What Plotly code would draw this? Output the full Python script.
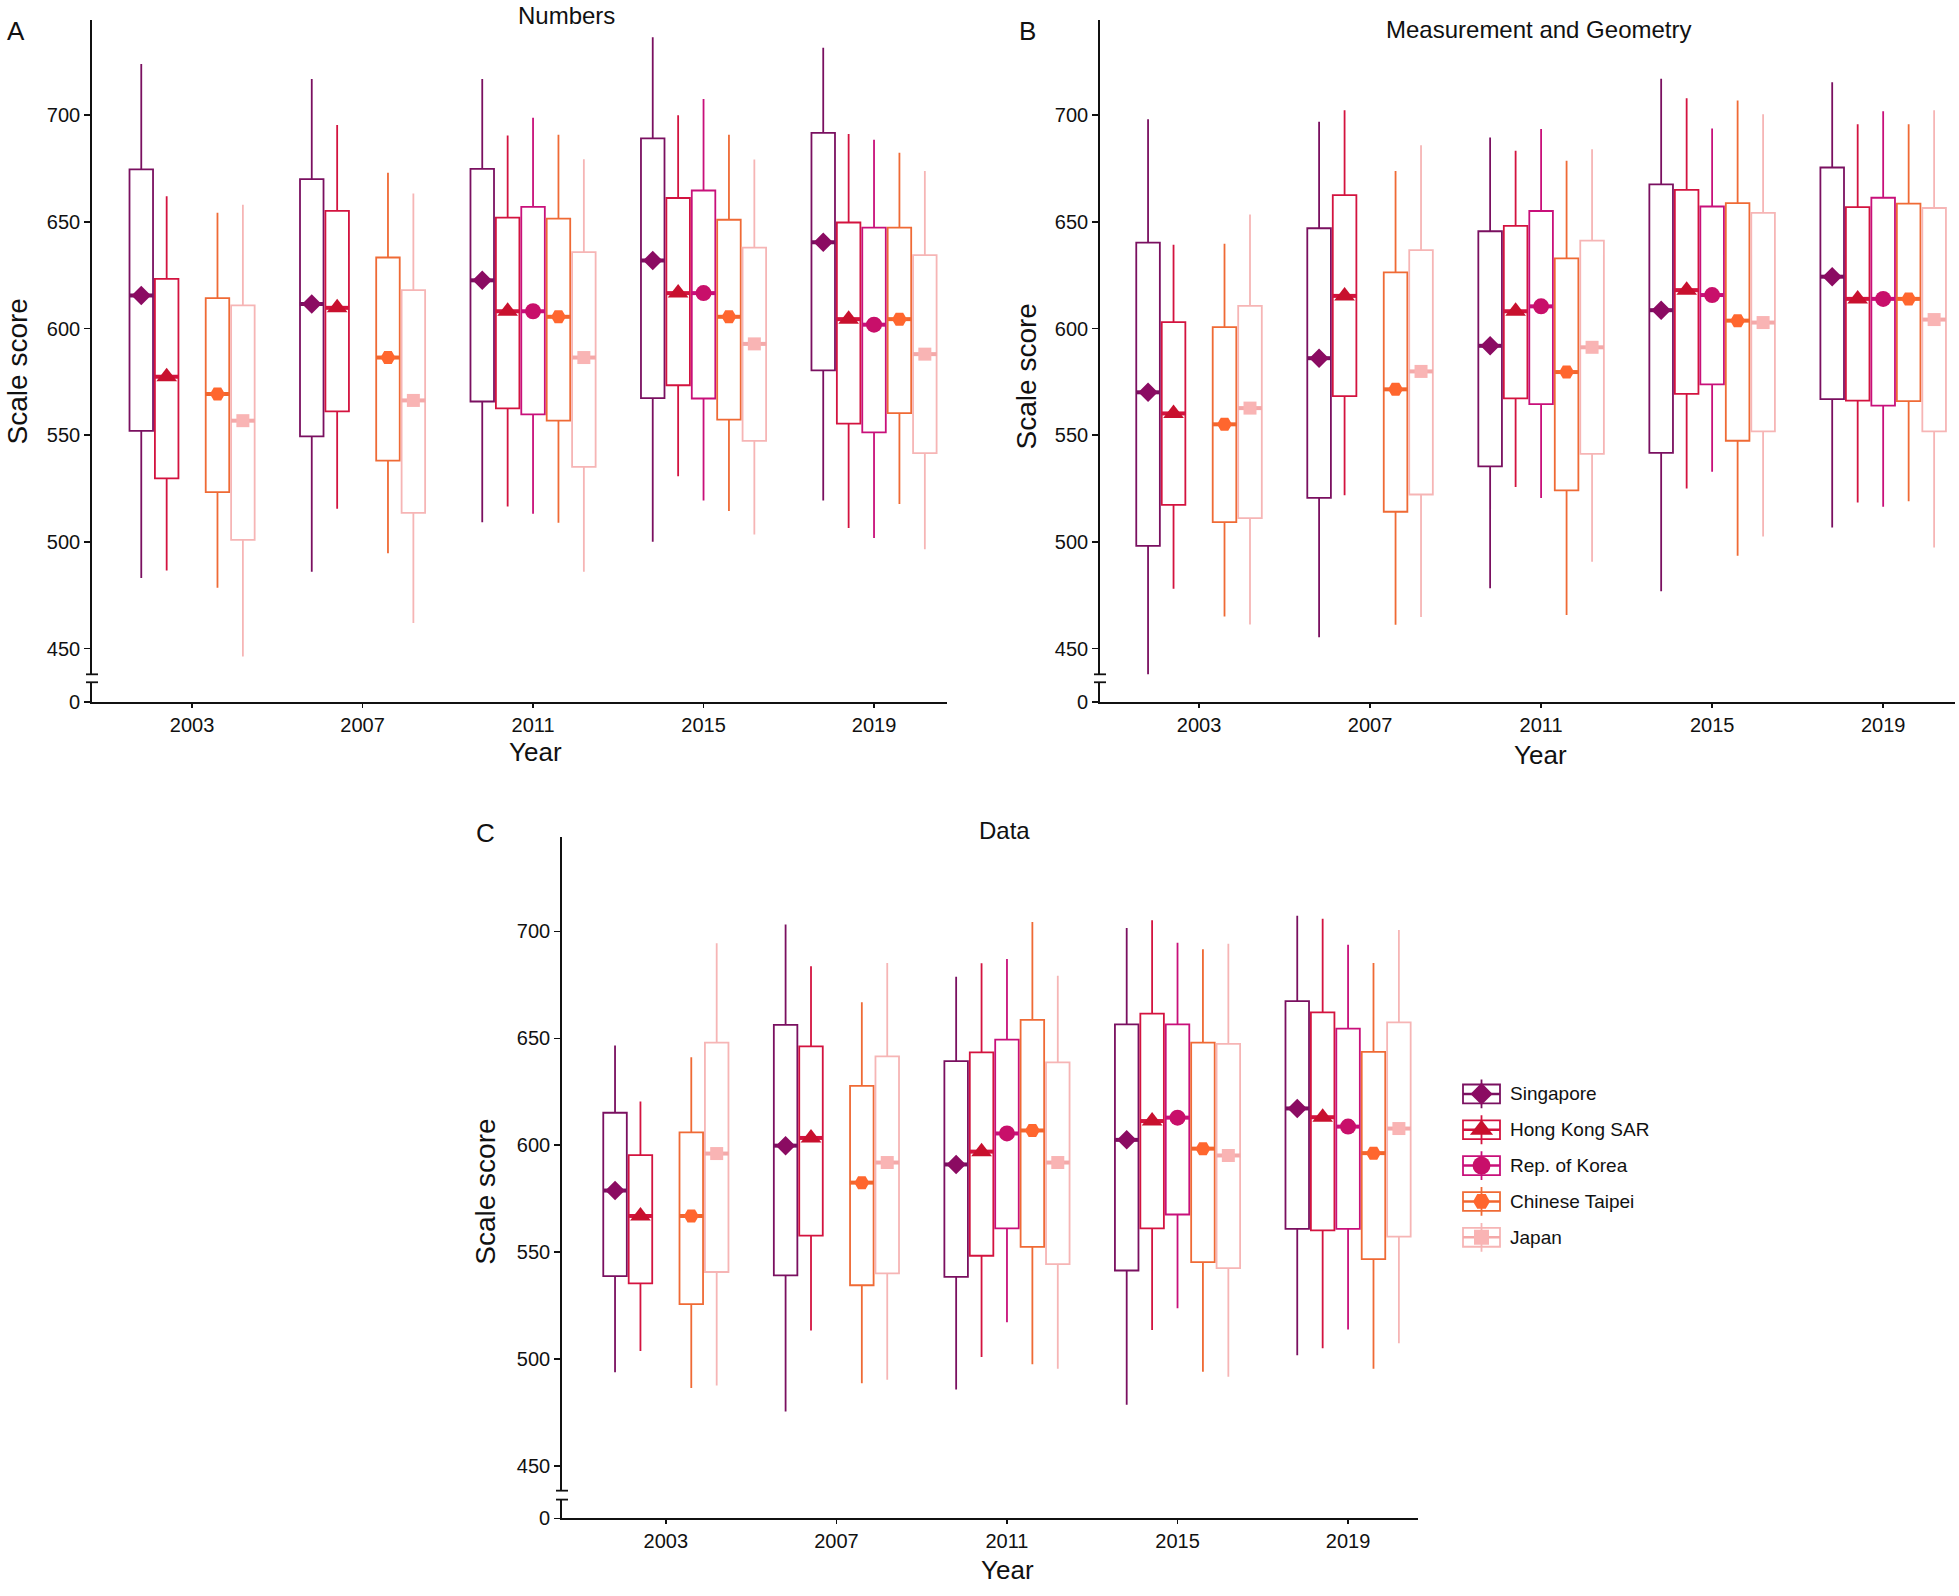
import plotly.graph_objects as go

# ---------------- data ----------------
YEARS = ["2003", "2007", "2011", "2015", "2019"]
COUNTRIES = ["Singapore", "Hong Kong SAR", "Rep. of Korea", "Chinese Taipei", "Japan"]
N = None

# Panel A: Numbers  (rows = countries, cols = years)
NUM_HI = [[724, 717, 717, 736.5, 731.6],
          [662, 695.4, 690.5, 700, 691.2],
          [N, N, 698.8, 707.6, 688.5],
          [654.3, 673, 690.8, 690.8, 682.4],
          [658, 663.3, 679.4, 679.2, 673.9]]
NUM_Q3 = [[674.6, 670, 674.8, 689.1, 691.7],
          [623.3, 655.2, 652, 661.2, 649.7],
          [N, N, 657, 664.7, 647.3],
          [614.3, 633.3, 651.5, 651, 647.3],
          [610.9, 618, 635.8, 637.9, 634.4]]
NUM_MED = [[615.5, 611.5, 622.6, 631.9, 640.4],
           [577.4, 609.7, 608.1, 616.6, 604.4],
           [N, N, 608.1, 616.6, 601.8],
           [569.3, 586.4, 605.5, 605.5, 604.4],
           [556.8, 566.3, 586.4, 592.8, 588]]
NUM_Q1 = [[552, 549.4, 565.8, 567.4, 580.4],
          [529.8, 561.2, 562.6, 573.4, 555.4],
          [N, N, 559.8, 567.2, 551.3],
          [523.3, 538.1, 556.8, 557.3, 560.3],
          [500.9, 513.6, 535.1, 547.3, 541.6]]
NUM_LO = [[483, 486, 509.2, 500, 519.4],
          [486.6, 515.5, 516.6, 530.7, 506.5],
          [N, N, 513.2, 519.4, 501.8],
          [478.5, 494.7, 509, 514.5, 517.8],
          [446.2, 461.9, 486, 503.5, 496.5]]

# Panel B: Measurement and Geometry
MG_HI = [[698.1, 696.9, 689.6, 717.1, 715.5],
         [639.3, 702.3, 683.3, 707.9, 695.8],
         [N, N, 693.5, 693.8, 701.9],
         [639.8, 673.8, 678.7, 706.9, 695.8],
         [653.5, 685.9, 684, 700.5, 702.3]]
MG_Q3 = [[640.3, 647, 645.6, 667.6, 675.5],
         [603, 662.5, 648.1, 665, 656.9],
         [N, N, 655.1, 657.2, 661.3],
         [600.7, 626.3, 632.9, 658.8, 658.6],
         [610.6, 636.8, 641.2, 654.2, 656.5]]
MG_MED = [[570.1, 586.1, 591.9, 608.6, 624.3],
          [560.2, 615.3, 608.1, 618, 613.9],
          [N, N, 610.4, 615.7, 613.9],
          [555.1, 571.5, 579.6, 603.7, 613.9],
          [562.7, 579.9, 591.2, 602.8, 604.2]]
MG_Q1 = [[498.1, 520.6, 535.4, 541.7, 566.9],
         [517.3, 568.3, 567.3, 569.4, 566.2],
         [N, N, 564.6, 573.8, 563.9],
         [509.2, 514.1, 524.1, 547.4, 566],
         [511.1, 522.2, 541.2, 551.8, 551.8]]
MG_LO = [[436.3, 455.3, 478.2, 476.8, 506.7],
         [478, 521.8, 525.7, 525, 518.5],
         [N, N, 520.6, 532.9, 516.4],
         [465, 461.1, 465.7, 493.5, 519],
         [461.3, 464.8, 490.7, 502.5, 497.4]]

# Panel C: Data
DAT_HI = [[646.7, 703.2, 678.8, 701.6, 707.4],
          [620.5, 683.7, 685.1, 705.3, 706],
          [N, N, 687.1, 694.7, 693.8],
          [641.1, 666.9, 704.4, 691.7, 685.3],
          [694.5, 685.3, 679.3, 694.3, 700.7]]
DAT_Q3 = [[615.2, 656.3, 639.3, 656.5, 667.4],
          [595.4, 646.2, 643.4, 661.6, 662.1],
          [N, N, 649.4, 656.5, 654.5],
          [606, 627.8, 658.6, 648, 643.7],
          [648, 641.6, 638.8, 647.4, 657.5]]
DAT_MED = [[578.8, 599.8, 591, 602.5, 617.2],
           [566.9, 603.4, 597, 611.3, 613.1],
           [N, N, 605.5, 612.9, 608.7],
           [566.9, 582.5, 606.9, 598.4, 596.3],
           [596.1, 591.9, 591.9, 595.2, 607.8]]
DAT_Q1 = [[538.8, 539.1, 538.4, 541.4, 560.9],
          [535.4, 557.7, 548.3, 561.1, 560.2],
          [N, N, 561.1, 567.6, 560.9],
          [525.7, 534.5, 552.4, 545.3, 546.7],
          [540.7, 540, 544.4, 542.5, 557.2]]
DAT_LO = [[493.8, 475.4, 485.7, 478.6, 501.8],
          [503.7, 513.3, 500.9, 513.6, 505],
          [N, N, 517.2, 523.7, 513.8],
          [486.4, 488.7, 497.5, 494, 495.4],
          [487.6, 490.3, 495.4, 491.7, 507.3]]

Y_TICKS = [450, 500, 550, 600, 650, 700]

# ---------------- styles ----------------
LINE_COL = ["#7a1060", "#d3133f", "#c8107a", "#ef6a35", "#f6b5b5"]
MED_COL = ["#7a1060", "#d3133f", "#c8107a", "#f2662e", "#f4a9a9"]
MARK_COL = ["#8b0b62", "#c8102e", "#c80f6a", "#ff662e", "#f9b4b4"]
SYMBOLS = ["diamond", "triangle-up", "circle", "hexagon2", "square"]
SIZES = [15, 18, 16, 15, 13]

W, H = 1959, 1596
FONT = "Liberation Sans, Arial, sans-serif"
SLOT = 0.149
BOXW = 0.138


def fx(px):
    return px / W


def fy(py):
    return 1 - py / H


fig = go.Figure()

panels = [
    dict(key="A", title="Numbers", data=(NUM_LO, NUM_Q1, NUM_MED, NUM_Q3, NUM_HI),
         x0=92, x1=947, top=20, brk=679, ltop=687, base=707,
         xr=[-0.587, 4.428], yr=[437.9, 744.7],
         title_xy=(566, 16), letter_xy=(16, 31), ytitle_xy=(17, 374), xtitle_xy=(535, 757)),
    dict(key="B", title="Measurement and Geometry", data=(MG_LO, MG_Q1, MG_MED, MG_Q3, MG_HI),
         x0=1100, x1=1955, top=20, brk=679, ltop=687, base=707,
         xr=[-0.579, 4.42], yr=[437.9, 744.7],
         title_xy=(1538, 30), letter_xy=(1027, 31), ytitle_xy=(1026, 379), xtitle_xy=(1540, 760)),
    dict(key="C", title="Data", data=(DAT_LO, DAT_Q1, DAT_MED, DAT_Q3, DAT_HI),
         x0=562, x1=1418, top=843, brk=1501, ltop=1510, base=1529,
         xr=[-0.609, 4.41], yr=[438.4, 744.1],
         title_xy=(1004, 836), letter_xy=(485, 839), ytitle_xy=(486, 1200), xtitle_xy=(1007, 1581)),
]

layout = dict(width=W, height=H, margin=dict(l=0, r=0, t=0, b=0),
              paper_bgcolor="white", plot_bgcolor="rgba(0,0,0,0)",
              showlegend=False, font=dict(family=FONT, color="#111111", size=20),
              annotations=[], shapes=[], hovermode=False)

for pi, p in enumerate(panels):
    xn = "" if pi == 0 else str(pi + 1)
    ym = str(2 * pi + 1)
    yl = str(2 * pi + 2)
    xa = "x" + xn
    ya_m = "y" + ("" if ym == "1" else ym)
    ya_l = "y" + yl
    lo, q1, med, q3, hi = p["data"]

    for ci, cname in enumerate(COUNTRIES):
        xs, l_, a_, m_, b_, h_ = [], [], [], [], [], []
        for yi in range(len(YEARS)):
            if med[ci][yi] is None:
                continue
            xs.append(yi + (ci - 2) * SLOT)
            l_.append(lo[ci][yi]); a_.append(q1[ci][yi]); m_.append(med[ci][yi])
            b_.append(q3[ci][yi]); h_.append(hi[ci][yi])
        fig.add_trace(go.Box(
            x=xs, q1=a_, median=m_, q3=b_, lowerfence=l_, upperfence=h_,
            width=BOXW, whiskerwidth=0, boxpoints=False,
            line=dict(color=LINE_COL[ci], width=1.8), fillcolor="rgba(255,255,255,0)",
            xaxis=xa, yaxis=ya_m, name=cname, showlegend=False, hoverinfo="skip"))
        # thick median bar
        fig.add_trace(go.Scatter(
            x=xs, y=m_, mode="markers", xaxis=xa, yaxis=ya_m, showlegend=False, hoverinfo="skip",
            marker=dict(symbol="line-ew-open", size=17, color=MED_COL[ci],
                        line=dict(color=MED_COL[ci], width=4))))
        # median marker
        fig.add_trace(go.Scatter(
            x=xs, y=m_, mode="markers", xaxis=xa, yaxis=ya_m, showlegend=False, hoverinfo="skip",
            marker=dict(symbol=SYMBOLS[ci], size=SIZES[ci], color=MARK_COL[ci],
                        line=dict(width=0))))
    # dummy trace for lower (broken) y segment
    fig.add_trace(go.Scatter(x=[None], y=[None], xaxis=xa, yaxis=ya_l,
                             showlegend=False, hoverinfo="skip"))

    axis_common = dict(showline=True, linecolor="#111111", linewidth=1.8, ticks="outside",
                       tickcolor="#111111", tickwidth=1.5, showgrid=False, zeroline=False,
                       tickfont=dict(family=FONT, size=20, color="#111111"))
    layout["xaxis" + xn] = dict(axis_common, domain=[fx(p["x0"]), fx(p["x1"])], range=p["xr"],
                                anchor=ya_l, tickvals=list(range(len(YEARS))), ticktext=YEARS,
                                ticklen=4, fixedrange=True)
    layout["yaxis" + ("" if ym == "1" else ym)] = dict(
        axis_common, domain=[fy(p["brk"]), fy(p["top"])], range=p["yr"], anchor=xa,
        tickvals=Y_TICKS, ticklen=6, fixedrange=True)
    layout["yaxis" + yl] = dict(
        axis_common, domain=[fy(p["base"]), fy(p["ltop"])], range=[0, 1], anchor=xa,
        tickvals=[0], ticktext=["0"], ticklen=6, fixedrange=True)

    # axis break marks
    for py in (p["brk"], p["ltop"]):
        layout["shapes"].append(dict(type="line", xref="paper", yref="paper",
                                     x0=fx(p["x0"] - 6), x1=fx(p["x0"] + 6), y0=fy(py), y1=fy(py),
                                     line=dict(color="#111111", width=1.8)))

    # texts
    tx, ty = p["title_xy"]
    layout["annotations"].append(dict(text=p["title"], x=fx(tx), y=fy(ty), xref="paper", yref="paper",
                                      showarrow=False, xanchor="center", yanchor="middle",
                                      font=dict(size=24, family=FONT, color="#111111")))
    lx, ly = p["letter_xy"]
    layout["annotations"].append(dict(text=p["key"], x=fx(lx), y=fy(ly), xref="paper", yref="paper",
                                      showarrow=False, xanchor="center", yanchor="middle",
                                      font=dict(size=26, family=FONT, color="#111111")))
    sx, sy = p["ytitle_xy"]
    layout["annotations"].append(dict(text="Scale score", x=fx(sx), y=fy(sy), xref="paper", yref="paper",
                                      showarrow=False, textangle=-90, xanchor="center", yanchor="middle",
                                      font=dict(size=28, family=FONT, color="#111111")))
    yx, yy = p["xtitle_xy"]
    layout["annotations"].append(dict(text="Year", x=fx(yx), y=fy(yy), xref="paper", yref="paper",
                                      showarrow=False, xanchor="center", yanchor="middle",
                                      font=dict(size=26, family=FONT, color="#111111")))

# ---------------- custom legend (ggplot-style keys) ----------------
LEG_X0, LEG_X1, LEG_Y0, LEG_Y1 = 1440, 1760, 1070, 1270
layout["xaxis4"] = dict(domain=[fx(LEG_X0), fx(LEG_X1)], range=[LEG_X0, LEG_X1], visible=False,
                        anchor="y7", fixedrange=True)
layout["yaxis7"] = dict(domain=[fy(LEG_Y1), fy(LEG_Y0)], range=[LEG_Y1, LEG_Y0], visible=False,
                        anchor="x4", fixedrange=True)
key_cx, key_w, key_h, whisk = 1481.5, 37, 19, 14.5
row0, row_gap = 1101.5, 36.1
key_x, key_y = [], []
for ci, cname in enumerate(COUNTRIES):
    cy = row0 + ci * row_gap
    key_x.append(key_cx); key_y.append(cy)
    col = LINE_COL[ci]
    layout["shapes"].append(dict(type="line", xref="x4", yref="y7", x0=key_cx, x1=key_cx, layer="below",
                                 y0=cy - whisk, y1=cy + whisk, line=dict(color=col, width=1.8)))
    layout["shapes"].append(dict(type="rect", xref="x4", yref="y7", x0=key_cx - key_w / 2, layer="below",
                                 x1=key_cx + key_w / 2, y0=cy - key_h / 2, y1=cy + key_h / 2,
                                 fillcolor="rgba(255,255,255,0)", line=dict(color=col, width=1.8)))
    layout["shapes"].append(dict(type="line", xref="x4", yref="y7", x0=key_cx - key_w / 2, layer="below",
                                 x1=key_cx + key_w / 2, y0=cy, y1=cy, line=dict(color=MED_COL[ci], width=2.5)))
    layout["annotations"].append(dict(text=cname, x=1508, y=cy, xref="x4", yref="y7", showarrow=False,
                                      xanchor="left", yanchor="middle",
                                      font=dict(size=19, family=FONT, color="#111111")))
for ci in range(len(COUNTRIES)):
    fig.add_trace(go.Scatter(x=[key_x[ci]], y=[key_y[ci]], mode="markers", xaxis="x4", yaxis="y7",
                             showlegend=False, hoverinfo="skip",
                             marker=dict(symbol=SYMBOLS[ci], size=SIZES[ci] + 2, color=MARK_COL[ci],
                                         line=dict(width=0))))

fig.update_layout(**layout)
fig.write_html("out.html", config={"displayModeBar": False, "staticPlot": True},
               post_script="document.body.style.margin='0';document.body.style.overflow='hidden';")
